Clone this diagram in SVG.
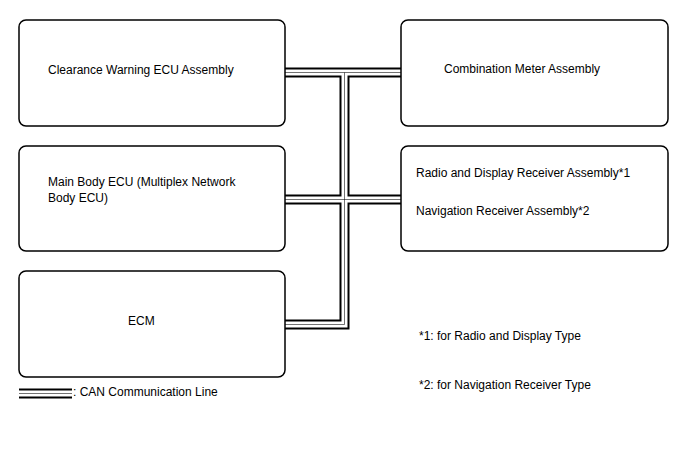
<svg xmlns="http://www.w3.org/2000/svg" width="688" height="463" viewBox="0 0 688 463">
<style>
.box{fill:#fff;stroke:#000;stroke-width:1.5}
.t{font-family:"Liberation Sans",Arial,sans-serif;font-size:12px;fill:#000}
.c1{fill:none;stroke:#000;stroke-width:10;stroke-linejoin:miter}
.c2{fill:none;stroke:#fff;stroke-width:6;stroke-linejoin:miter}
.c3{fill:none;stroke:#000;stroke-width:1;stroke-linejoin:miter;opacity:0.55}
</style>
<rect width="688" height="463" fill="#fff"/>
<g id="connectors">
<path class="c1" d="M285 72.5H401M344.5 72.5V324.5H285M285 199.5H401"/>
<path class="c2" d="M285 72.5H401M344.5 72.5V324.5H285M285 199.5H401"/>
<path class="c3" d="M285 72.5H401M344.5 72.5V324.5H285M285 199.5H401"/>
</g>
<g id="clearance">
<rect class="box" x="19" y="20" width="266" height="106" rx="7"/>
<text class="t" x="48" y="73.5">Clearance Warning ECU Assembly</text>
</g>
<g id="mainbody">
<rect class="box" x="19" y="146" width="266" height="105" rx="7"/>
<text class="t" x="48" y="185.5">Main Body ECU (Multiplex Network</text>
<text class="t" x="48" y="201.5">Body ECU)</text>
</g>
<g id="ecm">
<rect class="box" x="19" y="271" width="266" height="106" rx="7"/>
<text class="t" x="128" y="324.5">ECM</text>
</g>
<g id="meter">
<rect class="box" x="401" y="20" width="267" height="106" rx="7"/>
<text class="t" x="444" y="73">Combination Meter Assembly</text>
</g>
<g id="radio">
<rect class="box" x="401" y="146" width="267" height="105" rx="7"/>
<text class="t" x="416" y="177">Radio and Display Receiver Assembly*1</text>
<text class="t" x="416" y="215">Navigation Receiver Assembly*2</text>
</g>
<g id="notes">
<text class="t" x="419" y="339.5">*1: for Radio and Display Type</text>
<text class="t" x="419" y="388.5">*2: for Navigation Receiver Type</text>
</g>
<g id="legend">
<path class="c1" d="M19 393.5H72"/>
<path class="c2" d="M19 393.5H72"/>
<path class="c3" d="M19 393.5H72"/>
<text class="t" x="73" y="396">: CAN Communication Line</text>
</g>
</svg>
